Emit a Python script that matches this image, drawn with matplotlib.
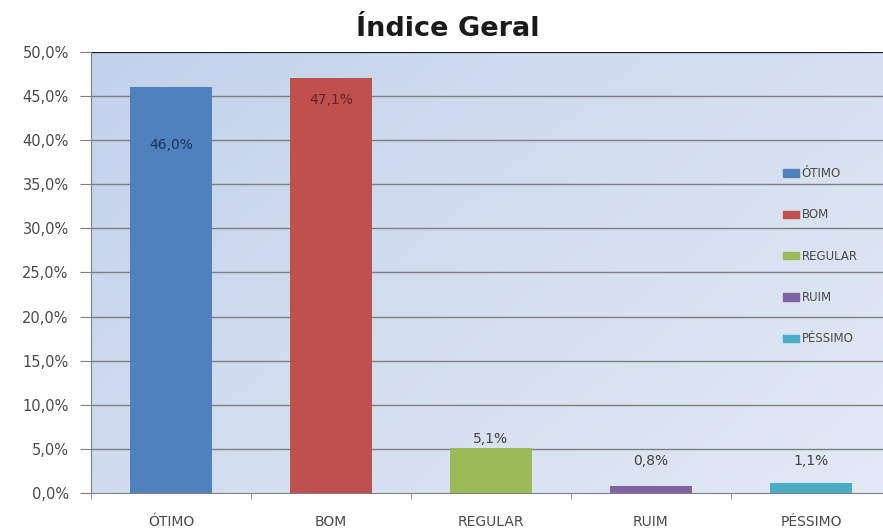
import numpy as np
import matplotlib
matplotlib.use('Agg')
import matplotlib.pyplot as plt
from matplotlib.colors import LinearSegmentedColormap

categories = ['ÓTIMO', 'BOM', 'REGULAR', 'RUIM', 'PÉSSIMO']
values = [46.0, 47.1, 5.1, 0.8, 1.1]
bar_colors = ['#4f81bd', '#c0504d', '#9bbb59', '#8064a2', '#4bacc6']
label_colors = ['#17365d', '#632523', '#404040', '#404040', '#404040']
# where each value label sits, relative to the top of its bar
label_offsets = [-6.6, -2.6, 1.0, 2.8, 2.5]

plt.rcParams['font.family'] = ['DejaVu Sans']

fig = plt.figure(figsize=(8.83, 5.31), dpi=100)
fig.patch.set_facecolor('white')
ax = fig.add_axes([0.103, 0.0716, 0.906, 0.8305])

# soft diagonal gradient behind the bars
cmap = LinearSegmentedColormap.from_list('bg', ['#c2d2eb', '#d3def0', '#e2e9f5'])
gx, gy = np.meshgrid(np.linspace(0, 1, 200), np.linspace(0, 1, 200))
grad = 0.6 * gx + 0.4 * gy
ax.imshow(grad, cmap=cmap, extent=[0, 1, 0, 1], transform=ax.transAxes,
          aspect='auto', zorder=0, interpolation='bicubic')

x = np.arange(len(categories))
ax.bar(x, values, width=0.51, color=bar_colors, zorder=3)

for i, v in enumerate(values):
    ax.text(x[i], v + label_offsets[i], f'{v:.1f}%'.replace('.', ','),
            ha='center', va='center', fontsize=10, color=label_colors[i],
            zorder=4)

ax.set_xlim(-0.5, len(categories) - 0.5)
ax.set_ylim(0, 50)
ax.set_yticks(np.arange(0, 50.1, 5))
ax.set_yticklabels([f'{t:.1f}%'.replace('.', ',') for t in np.arange(0, 50.1, 5)],
                   fontsize=10.5, color='#4a4a4a')
ax.set_xticks(x)
ax.set_xticklabels(categories, fontsize=10, color='#4a4a4a')
ax.set_xticks(np.arange(-0.5, len(categories), 1), minor=True)
ax.tick_params(axis='x', which='major', length=0, pad=16)
ax.tick_params(axis='x', which='minor', length=4, color='#808080', direction='out')
ax.tick_params(axis='y', length=8, color='#808080', direction='out', pad=8)

for t in np.arange(5, 50, 5):
    ax.axhline(t, color='#7f7f7f', lw=1.0, zorder=1)
ax.axhline(50, color='#1a1a1a', lw=1.6, zorder=2)

for s in ['top', 'right']:
    ax.spines[s].set_visible(False)
ax.spines['left'].set_color('#808080')
ax.spines['bottom'].set_color('#808080')

handles = [plt.Rectangle((0, 0), 1, 1, color=c) for c in bar_colors]
leg = ax.legend(handles, categories, loc='upper left',
                bbox_to_anchor=(0.852, 0.763), frameon=False, fontsize=8.5,
                labelspacing=2.4, handlelength=1.3, handleheight=0.6,
                handletextpad=0.25, labelcolor='#4a4a4a')

fig.text(0.507, 0.945, 'Índice Geral', ha='center', va='center',
         fontsize=19.5, fontweight='bold', color='#1a1a1a')

fig.savefig('out.png', dpi=100)
